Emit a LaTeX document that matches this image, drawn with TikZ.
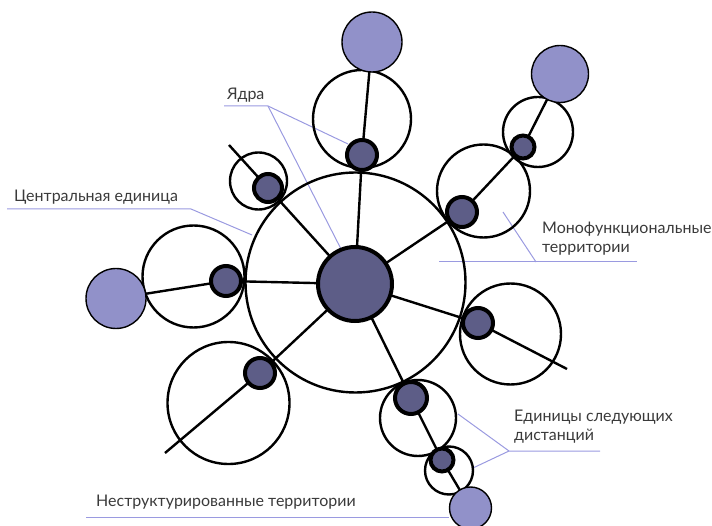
\documentclass[tikz,border=0pt]{standalone}
\usepackage{fontspec}
\setmainfont{Lato}
\usetikzlibrary{backgrounds}
\definecolor{corecol}{HTML}{5D5D87}
\definecolor{lightcol}{HTML}{9191C9}
\definecolor{labcol}{HTML}{9A9AE0}
\definecolor{textcol}{HTML}{3A3A3A}
\tikzset{
  mono/.style={circle, draw=black, line width=2.4pt, inner sep=0pt, minimum size=#1},
  corenode/.style={circle, draw=black, fill=corecol, line width=4pt, inner sep=0pt, minimum size=#1},
  lightnode/.style={circle, draw=black, fill=lightcol, line width=1.4pt, inner sep=0pt, minimum size=#1},
  link/.style={draw=black, line width=2.4pt},
  lbl/.style={draw=labcol, line width=1pt},
  txt/.style={font=\fontsize{16}{19}\selectfont, text=textcol, inner sep=0pt, anchor=west, align=left}
}
\begin{document}
\begin{tikzpicture}[x=1pt,y=-1pt]
\useasboundingbox (0,0) rectangle (712,526);
% central unit
\node[mono=220pt] (cu) at (355.5,282.5) {};
% territory circles
\node[mono=98pt] (m1) at (362,119) {};
\node[mono=93pt] (m2) at (483.5,191) {};
\node[mono=70pt] (m2b) at (538,132) {};
\node[mono=57pt] (m3) at (258.5,181) {};
\node[mono=102pt] (m4) at (193.5,276.5) {};
\node[mono=122pt] (m5) at (228.5,403) {};
\node[mono=101pt] (m6) at (510.5,334) {};
\node[mono=76pt] (m7) at (418,418) {};
\node[mono=48pt] (m7b) at (449,470.5) {};
% light circles
\node[lightnode=60pt] (l1) at (372,42) {};
\node[lightnode=57pt] (l2) at (560,74) {};
\node[lightnode=60pt] (l4) at (116,298.5) {};
\node[lightnode=42pt] (l7) at (470.5,508) {};
% cores
\node[corenode=74pt] (c0) at (355,284) {};
\node[corenode=30pt] (k1) at (362,155) {};
\node[corenode=30pt] (k2) at (462,212) {};
\node[corenode=23pt] (k2b) at (523,147) {};
\node[corenode=28pt] (k3) at (268,188) {};
\node[corenode=30pt] (k4) at (226,281) {};
\node[corenode=30pt] (k5) at (260,373) {};
\node[corenode=30pt] (k6) at (478,323) {};
\node[corenode=32pt] (k7) at (411,398) {};
\node[corenode=23pt] (k7b) at (442,460) {};
% free ends
\coordinate (e3) at (229,145);
\coordinate (e5) at (165,453);
\coordinate (e6) at (567,369);
% label points
\coordinate (ya1) at (224,106);
\coordinate (ya2) at (268,106);
\coordinate (yaA) at (348,144);
\coordinate (yaB) at (341,249);
\coordinate (cu1) at (7,209);
\coordinate (cu2) at (191,209);
\coordinate (cuA) at (252,235);
\coordinate (mo1) at (439,262);
\coordinate (mo2) at (637,262);
\coordinate (mo3) at (536,262);
\coordinate (moA) at (503,212);
\coordinate (ed1) at (509,451);
\coordinate (ed2) at (600,451);
\coordinate (edA) at (458,414);
\coordinate (edB) at (473,468);
\coordinate (ne1) at (86,517);
\coordinate (ne2) at (449,517);
% texts
\node[txt] (tya) at (227,95) {Ядра};
\node[txt] (tcu) at (14,197) {Центральная единица};
\node[txt] (tmo) at (542,239) {Монофункциональные\\территории};
\node[txt] (ted) at (514,427) {Единицы следующих\\дистанций};
\node[txt] (tne) at (96,502) {Неструктурированные территории};
\begin{scope}[on background layer]
  \draw[link] (c0.center) -- (k1.center) -- (l1.center);
  \draw[link] (c0.center) -- (k2.center) -- (k2b.center) -- (l2.center);
  \draw[link] (c0.center) -- (k3.center) -- (e3);
  \draw[link] (c0.center) -- (k4.center) -- (l4.center);
  \draw[link] (c0.center) -- (k5.center) -- (e5);
  \draw[link] (c0.center) -- (k6.center) -- (e6);
  \draw[link] (c0.center) -- (k7.center) -- (k7b.center) -- (l7.center);
  \draw[lbl] (ya1) -- (ya2) -- (yaA);
  \draw[lbl] (ya2) -- (yaB);
  \draw[lbl] (cu1) -- (cu2) -- (cuA);
  \draw[lbl] (mo1) -- (mo2);
  \draw[lbl] (mo3) -- (moA);
  \draw[lbl] (ed2) -- (ed1) -- (edA);
  \draw[lbl] (ed1) -- (edB);
  \draw[lbl] (ne1) -- (ne2);
\end{scope}
\end{tikzpicture}
\end{document}
